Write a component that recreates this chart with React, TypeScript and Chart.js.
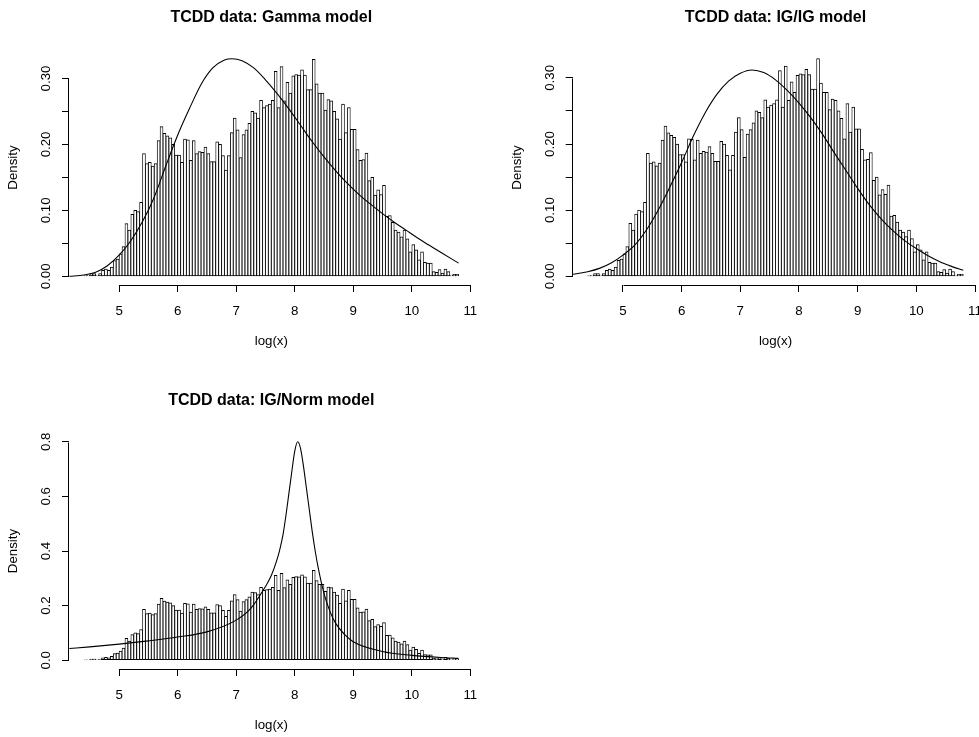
import React, { useEffect, useRef } from 'react';
import { Chart, registerables } from 'chart.js';

Chart.register(...registerables);

// ---------- data ----------
const binStart = 4.4;
const binWidth = 0.05;
const densities = [
  0.001, 0.002, 0.004, 0.004, 0.002, 0.004, 0.009, 0.011, 0.009, 0.014,
  0.024, 0.026, 0.034, 0.045, 0.080, 0.070, 0.094, 0.100, 0.098, 0.112,
  0.186, 0.171, 0.173, 0.167, 0.171, 0.206, 0.227, 0.217, 0.213, 0.210,
  0.200, 0.184, 0.184, 0.173, 0.208, 0.207, 0.176, 0.206, 0.186, 0.189,
  0.188, 0.196, 0.186, 0.174, 0.174, 0.204, 0.200, 0.183, 0.161, 0.183,
  0.218, 0.240, 0.222, 0.180, 0.215, 0.222, 0.232, 0.250, 0.248, 0.240,
  0.267, 0.256, 0.259, 0.261, 0.267, 0.311, 0.256, 0.318, 0.266, 0.294,
  0.278, 0.304, 0.306, 0.305, 0.313, 0.305, 0.283, 0.283, 0.329, 0.292,
  0.278, 0.278, 0.252, 0.268, 0.266, 0.250, 0.239, 0.208, 0.261, 0.218,
  0.256, 0.223, 0.223, 0.192, 0.176, 0.177, 0.187, 0.145, 0.150, 0.123,
  0.131, 0.124, 0.138, 0.091, 0.092, 0.082, 0.070, 0.067, 0.060, 0.070,
  0.057, 0.037, 0.048, 0.040, 0.025, 0.037, 0.021, 0.020, 0.020, 0.007,
  0.006, 0.010, 0.005, 0.011, 0.007, 0.002, 0.003, 0.003,
];

const gammaX = [4.15, 4.4, 4.6, 4.8, 5.0, 5.2, 5.4, 5.6, 5.8, 6.0, 6.2, 6.4, 6.6, 6.8, 6.93, 7.1, 7.3, 7.5, 7.7, 7.9, 8.1, 8.3, 8.5, 8.7, 8.9, 9.1, 9.3, 9.5, 9.7, 9.9, 10.1, 10.3, 10.5, 10.8];
const gammaY = [0.000, 0.002, 0.006, 0.016, 0.032, 0.054, 0.083, 0.120, 0.168, 0.214, 0.254, 0.291, 0.316, 0.328, 0.330, 0.327, 0.316, 0.298, 0.277, 0.254, 0.229, 0.204, 0.181, 0.160, 0.141, 0.124, 0.109, 0.095, 0.082, 0.070, 0.058, 0.047, 0.036, 0.020];

const igigX = [4.15, 4.4, 4.6, 4.8, 5.0, 5.2, 5.4, 5.6, 5.8, 6.0, 6.2, 6.4, 6.6, 6.8, 7.0, 7.2, 7.4, 7.6, 7.8, 8.0, 8.2, 8.4, 8.6, 8.8, 9.0, 9.2, 9.4, 9.6, 9.8, 10.0, 10.2, 10.4, 10.6, 10.8];
const igigY = [0.003, 0.007, 0.012, 0.020, 0.032, 0.047, 0.070, 0.100, 0.135, 0.172, 0.212, 0.247, 0.275, 0.295, 0.307, 0.312, 0.308, 0.297, 0.281, 0.262, 0.240, 0.215, 0.187, 0.160, 0.133, 0.108, 0.087, 0.069, 0.054, 0.042, 0.031, 0.022, 0.015, 0.009];

const ignormX = [4.15, 4.5, 5.0, 5.5, 6.0, 6.5, 7.0, 7.25, 7.5, 7.6, 7.7, 7.75, 7.8, 7.85, 7.9, 7.95, 8.0, 8.05, 8.1, 8.15, 8.2, 8.25, 8.3, 8.35, 8.4, 8.5, 8.6, 8.7, 8.85, 9.0, 9.5, 10.0, 10.5, 10.8];
const ignormY = [0.043, 0.049, 0.059, 0.071, 0.085, 0.104, 0.147, 0.190, 0.270, 0.310, 0.370, 0.410, 0.460, 0.530, 0.610, 0.690, 0.765, 0.800, 0.775, 0.710, 0.630, 0.550, 0.470, 0.400, 0.340, 0.245, 0.180, 0.135, 0.095, 0.068, 0.032, 0.018, 0.010, 0.007];

const xTicks = [5, 6, 7, 8, 9, 10, 11];
const xTickLabels = ['5', '6', '7', '8', '9', '10', '11'];
const yTicksSmall = [0, 0.05, 0.1, 0.15, 0.2, 0.25, 0.3];
const yTickLabelsSmall = ['0.00', '', '0.10', '', '0.20', '', '0.30'];
const yTicksNorm = [0, 0.2, 0.4, 0.6, 0.8];
const yTickLabelsNorm = ['0.0', '0.2', '0.4', '0.6', '0.8'];

const titles = ['TCDD data: Gamma model', 'TCDD data: IG/IG model', 'TCDD data: IG/Norm model'];
const xLabel = 'log(x)';
const yLabel = 'Density';

// ---------- layout ----------
const TL = 7;
const panels = [
  { title: titles[0], cx: gammaX, cy: gammaY, yTicks: yTicksSmall, yLabels: yTickLabelsSmall,
    left: 0, top: 0, w: 490, h: 370, area: { left: 69, right: 473.6, top: 50, bottom: 285 } },
  { title: titles[1], cx: igigX, cy: igigY, yTicks: yTicksSmall, yLabels: yTickLabelsSmall,
    left: 490, top: 0, w: 489, h: 370, area: { left: 82.7, right: 488.3, top: 50, bottom: 285 } },
  { title: titles[2], cx: ignormX, cy: ignormY, yTicks: yTicksNorm, yLabels: yTickLabelsNorm,
    left: 0, top: 370, w: 490, h: 367, area: { left: 69, right: 473.6, top: 63, bottom: 299 } },
];

const FONT = '"Liberation Sans", Arial, Helvetica, sans-serif';
const EDGE = 0.85;

const rStyle = {
  id: 'rStyle',
  afterDraw(chart: any, _args: any, opts: any) {
    const ctx = chart.ctx;
    const { left, right, top, bottom } = chart.chartArea;
    const xs = chart.scales.x;
    const ys = chart.scales.y;
    ctx.save();
    ctx.strokeStyle = '#000';
    ctx.fillStyle = '#000';
    ctx.lineWidth = 1;
    const bx = Math.round(bottom) + 0.5;
    ctx.beginPath();
    ctx.moveTo(Math.round(xs.getPixelForValue(xTicks[0])) + 0.5, bx);
    ctx.lineTo(Math.round(xs.getPixelForValue(xTicks[xTicks.length - 1])) + 0.5, bx);
    ctx.stroke();
    const lx = Math.round(left) - 0.5;
    ctx.beginPath();
    ctx.moveTo(lx, Math.round(ys.getPixelForValue(opts.yTicks[0])) + 0.5);
    ctx.lineTo(lx, Math.round(ys.getPixelForValue(opts.yTicks[opts.yTicks.length - 1])) + 0.5);
    ctx.stroke();

    ctx.font = `13.3px ${FONT}`;
    ctx.textAlign = 'center';
    ctx.textBaseline = 'alphabetic';
    xTicks.forEach((v, i) => {
      ctx.fillText(xTickLabels[i], xs.getPixelForValue(v), bottom + 30);
    });
    ctx.fillText(xLabel, (left + right) / 2, bottom + 60);

    opts.yTicks.forEach((v: number, i: number) => {
      const lab = opts.yLabels[i];
      if (!lab) return;
      ctx.save();
      ctx.translate(left - 19, ys.getPixelForValue(v));
      ctx.rotate(-Math.PI / 2);
      ctx.fillText(lab, 0, 0);
      ctx.restore();
    });
    ctx.save();
    ctx.translate(left - 52, (top + bottom) / 2);
    ctx.rotate(-Math.PI / 2);
    ctx.fillText(yLabel, 0, 0);
    ctx.restore();

    ctx.font = `bold 16px ${FONT}`;
    ctx.fillText(opts.title, (left + right) / 2, top - 28.5);
    ctx.restore();
  },
};

function Panel({ p }: { p: any }) {
  const ref = useRef<HTMLCanvasElement | null>(null);
  useEffect(() => {
    if (!ref.current) return;
    const n = densities.length;
    const barData = densities.map((d, i) => ({ x: binStart + binWidth * (i + 0.5), y: d }));
    const curveData = p.cx.map((x: number, i: number) => ({ x, y: p.cy[i] }));
    const M = Math.max(Math.max(...densities), Math.max(...p.cy));
    const xMin = binStart - 0.04 * n * binWidth;
    const xMax = binStart + n * binWidth + 0.04 * n * binWidth;
    const a = p.area;
    const chart = new Chart(ref.current, {
      type: 'bar',
      data: {
        datasets: [
          {
            type: 'bar',
            data: barData,
            backgroundColor: '#ffffff',
            borderColor: '#000000',
            borderWidth: { top: 1, bottom: 1, left: EDGE, right: EDGE },
            borderSkipped: false,
            barPercentage: 1,
            categoryPercentage: 1,
            grouped: false,
            order: 2,
          } as any,
          {
            type: 'line',
            data: curveData,
            borderColor: '#000000',
            borderWidth: 1.1,
            pointRadius: 0,
            fill: false,
            cubicInterpolationMode: 'monotone',
            order: 1,
          } as any,
        ],
      },
      options: {
        animation: false,
        responsive: false,
        events: [],
        layout: {
          padding: { left: a.left - TL, top: a.top, right: p.w - a.right, bottom: p.h - a.bottom - TL },
        },
        plugins: {
          legend: { display: false },
          tooltip: { enabled: false },
          title: { display: false },
          rStyle: { title: p.title, yTicks: p.yTicks, yLabels: p.yLabels },
        } as any,
        scales: {
          x: {
            type: 'linear',
            min: xMin,
            max: xMax,
            offset: false,
            afterFit: (s: any) => { s.height = TL; },
            afterBuildTicks: (s: any) => { s.ticks = xTicks.map((v) => ({ value: v })); },
            ticks: { display: false },
            grid: { drawOnChartArea: false, drawTicks: true, tickLength: TL, color: '#000', lineWidth: 1, offset: false },
            border: { display: false },
          },
          y: {
            type: 'linear',
            min: -0.04 * M,
            max: 1.04 * M,
            afterFit: (s: any) => { s.width = TL; },
            afterBuildTicks: (s: any) => { s.ticks = p.yTicks.map((v: number) => ({ value: v })); },
            ticks: { display: false },
            grid: { drawOnChartArea: false, drawTicks: true, tickLength: TL, color: '#000', lineWidth: 1 },
            border: { display: false },
          },
        },
      } as any,
      plugins: [rStyle],
    });
    return () => chart.destroy();
  }, [p]);
  return (
    <canvas
      ref={ref}
      width={p.w}
      height={p.h}
      style={{ position: 'absolute', left: p.left, top: p.top, width: p.w, height: p.h }}
    />
  );
}

export default function App() {
  useEffect(() => {
    document.body.style.margin = '0';
  }, []);
  return (
    <div style={{ position: 'relative', width: 979, height: 737, background: '#fff', overflow: 'hidden' }}>
      {panels.map((p, i) => (
        <Panel key={i} p={p} />
      ))}
    </div>
  );
}
